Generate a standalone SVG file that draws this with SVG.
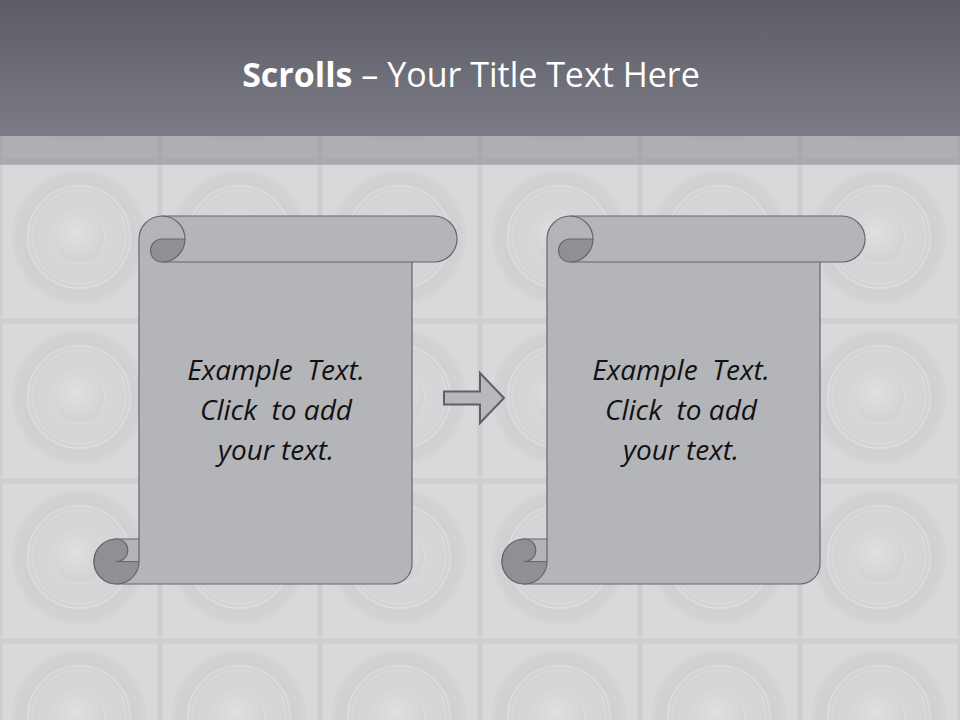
<svg xmlns="http://www.w3.org/2000/svg" width="960" height="720" viewBox="0 0 960 720">
  <defs>
    <linearGradient id="hdr" x1="0" y1="0" x2="0" y2="1">
      <stop offset="0" stop-color="#5b5c64"/>
      <stop offset="1" stop-color="#7b7c86"/>
    </linearGradient>
    <radialGradient id="dome" cx="0.45" cy="0.4" r="0.6">
      <stop offset="0" stop-color="#dfe0e1"/>
      <stop offset="1" stop-color="#d1d2d4"/>
    </radialGradient>
    <radialGradient id="cone" cx="0.5" cy="0.5" r="0.5">
      <stop offset="0.55" stop-color="#d5d6d8"/>
      <stop offset="0.9" stop-color="#d0d1d3"/>
      <stop offset="1" stop-color="#d6d7d9"/>
    </radialGradient>
    <pattern id="tiles" x="0" y="1" width="160" height="160" patternUnits="userSpaceOnUse">
      <rect width="160" height="160" fill="#d8d9db"/>
      <rect x="0" y="0" width="160" height="160" fill="none" stroke="#cdced0" stroke-width="5"/>
      <circle cx="79" cy="76" r="68" fill="url(#cone)"/>
      <circle cx="79" cy="76" r="55" fill="none" stroke="#cdced0" stroke-width="1.2"/>
      <circle cx="79" cy="76" r="51" fill="none" stroke="#dfe0e1" stroke-width="1.2"/>
      <circle cx="79" cy="76" r="47" fill="none" stroke="#dcdddf" stroke-width="1"/>
      <circle cx="79" cy="76" r="26" fill="url(#dome)" stroke="#dcdddf" stroke-width="1"/>
    </pattern>
    <style>
      .paper { fill: #b4b5b9; stroke: #66676b; stroke-width: 1.2; stroke-linejoin: round; }
      .curl { fill: #8f9094; stroke: #66676b; stroke-width: 1.2; stroke-linejoin: round; }
      .edge { fill: none; stroke: #66676b; stroke-width: 1.2; }
      .body { font-family: "Open Sans", "Liberation Sans", sans-serif; font-style: italic; font-size: 28px; fill: #111111; text-anchor: middle; white-space: pre; }
      .title { font-family: "Open Sans", "Liberation Sans", sans-serif; font-size: 34px; fill: #ffffff; text-anchor: middle; white-space: pre; }
    </style>
  </defs>

  <g id="background">
    <rect width="960" height="720" fill="url(#tiles)"/>
    <rect x="0" y="135" width="960" height="30" fill="#7c7d83" opacity="0.45"/>
    <rect x="0" y="0" width="960" height="136" fill="url(#hdr)"/>
  </g>

  <g id="title">
    <text class="title" x="471" y="87"><tspan font-weight="bold">Scrolls</tspan> – Your Title Text Here</text>
  </g>

  <g id="scroll1">
    <path class="paper" d="M139,239 A23,23 0 0 1 162,216 H434 A23,23 0 0 1 434,262 H412 V564 A20,20 0 0 1 392,584 H116.5 A22.5,22.5 0 0 1 116.5,539 H139 Z"/>
    <path class="edge" d="M162,216 A23,23 0 0 1 185,239 M162,262 H412 M139,539 V561.5"/>
    <path class="curl" d="M162,239 H185 A23,23 0 0 1 162,262 A11.5,11.5 0 0 1 162,239 Z"/>
    <path class="curl" d="M116.5,539 A11.25,11.25 0 0 1 116.5,561.5 H139 A22.5,22.5 0 0 1 116.5,584 A22.5,22.5 0 0 1 116.5,539 Z"/>
    <text class="body" x="276" y="380">Example  Text.</text>
    <text class="body" x="276" y="420">Click  to add</text>
    <text class="body" x="276" y="460">your text.</text>
  </g>

  <g id="scroll2">
    <path class="paper" d="M547,239 A23,23 0 0 1 570,216 H842 A23,23 0 0 1 842,262 H820 V564 A20,20 0 0 1 800,584 H524.5 A22.5,22.5 0 0 1 524.5,539 H547 Z"/>
    <path class="edge" d="M570,216 A23,23 0 0 1 593,239 M570,262 H820 M547,539 V561.5"/>
    <path class="curl" d="M570,239 H593 A23,23 0 0 1 570,262 A11.5,11.5 0 0 1 570,239 Z"/>
    <path class="curl" d="M524.5,539 A11.25,11.25 0 0 1 524.5,561.5 H547 A22.5,22.5 0 0 1 524.5,584 A22.5,22.5 0 0 1 524.5,539 Z"/>
    <text class="body" x="681" y="380">Example  Text.</text>
    <text class="body" x="681" y="420">Click  to add</text>
    <text class="body" x="681" y="460">your text.</text>
  </g>

  <g id="connectors">
    <polygon points="444,391.5 480,391.5 480,373 504,398 480,423 480,404.5 444,404.5" fill="#b8b9bd" stroke="#5f6065" stroke-width="2" stroke-linejoin="miter"/>
  </g>
</svg>
